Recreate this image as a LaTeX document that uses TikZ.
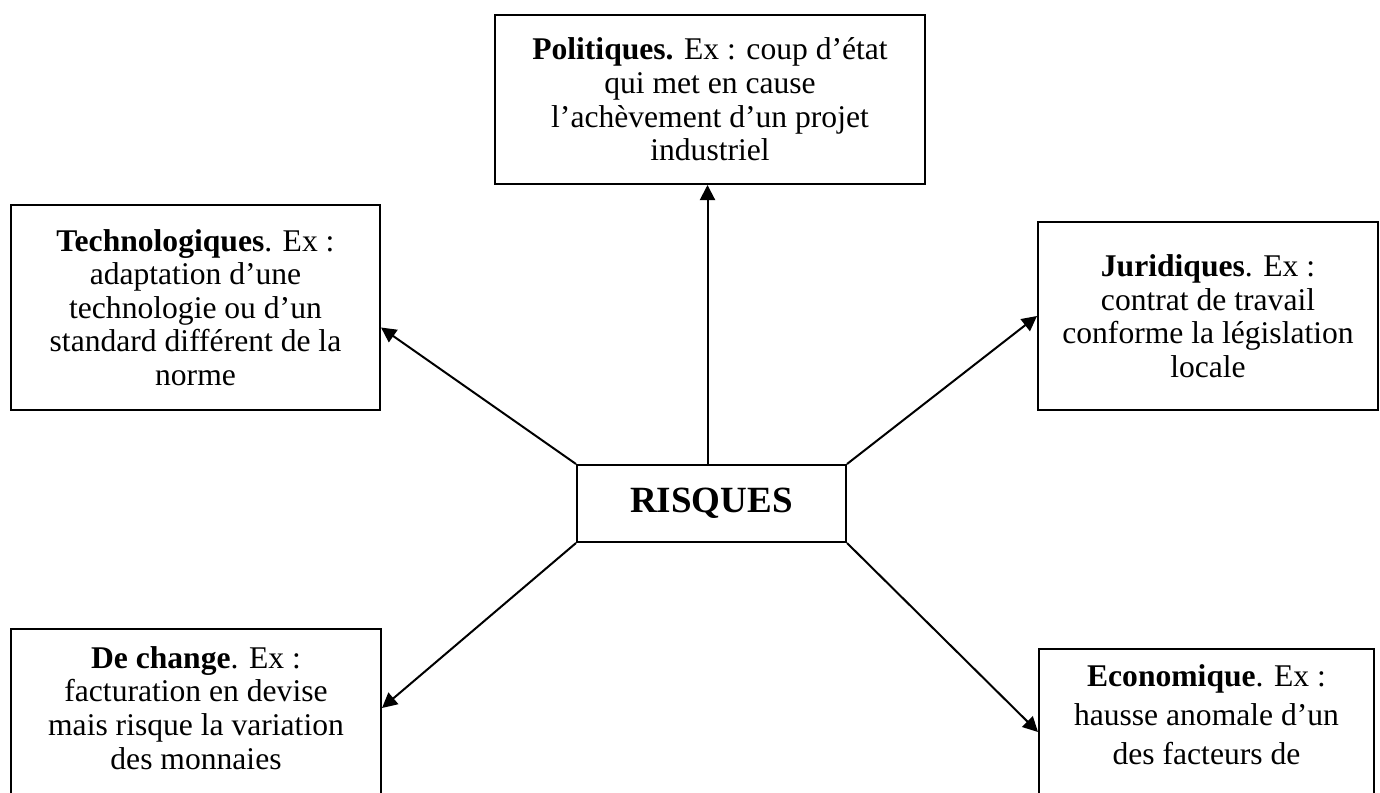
\documentclass[tikz,border=0pt]{standalone}
\usepackage{fontspec}
\setmainfont{Liberation Serif}
\usetikzlibrary{arrows.meta}
\tikzset{
  texte/.style={align=center,inner sep=0pt,font=\fontsize{15.8pt}{16.8pt}\selectfont},
  boite/.style={texte,draw,line width=1pt},
  fleche/.style={line width=1pt,-{Triangle[length=7.5pt,width=7.5pt]}}
}
\begin{document}
\begin{tikzpicture}[x=0.5pt,y=-0.5pt]
  \clip (0,0) rectangle (1380,792);
  %% centre
  \node[boite,minimum width=134.5pt,minimum height=38.5pt,font=\fontsize{18.5pt}{20pt}\selectfont\bfseries] (R) at (711.5,503.5) {RISQUES};
  %% types de risques
  \node[boite,minimum width=215pt,minimum height=84.5pt] (P) at (710,99.5) {\textbf{Politiques.} Ex : coup d’état\\qui met en cause\\l’achèvement d’un projet\\industriel};
  \node[boite,minimum width=184.5pt,minimum height=102.5pt] (T) at (195.5,307.5) {\textbf{Technologiques}. Ex :\\adaptation d’une\\technologie ou d’un\\standard différent de la\\norme};
  \node[boite,minimum width=170pt,minimum height=94pt] (J) at (1208,316) {\textbf{Juridiques}. Ex :\\contrat de travail\\conforme la législation\\locale};
  %% boites coupees en bas
  \node[boite,anchor=north west,minimum width=185pt,minimum height=110pt] (C) at (10,628) {};
  \node[texte,anchor=north] (Ct) at ([yshift=-9pt]C.north) {\textbf{De change}. Ex :\\facturation en devise\\mais risque la variation\\des monnaies};
  \node[boite,anchor=north west,minimum width=167.5pt,minimum height=100pt] (E) at (1038,648) {};
  \node[texte,anchor=north,font=\fontsize{15.8pt}{19.5pt}\selectfont] (Et) at ([yshift=-8pt]E.north) {\textbf{Economique}. Ex :\\hausse anomale d’un\\des facteurs de};
  %% fleches
  \draw[fleche] ([xshift=-2pt]R.north) -- ([xshift=-2pt]R.north |- P.south);
  \draw[fleche] (R.north west) -- ([yshift=-10pt]T.east);
  \draw[fleche] (R.north east) -- (J.west);
  \draw[fleche] (R.south west) -- ([yshift=-40pt]C.north east);
  \draw[fleche] (R.south east) -- ([yshift=-42pt]E.north west);
\end{tikzpicture}
\end{document}
